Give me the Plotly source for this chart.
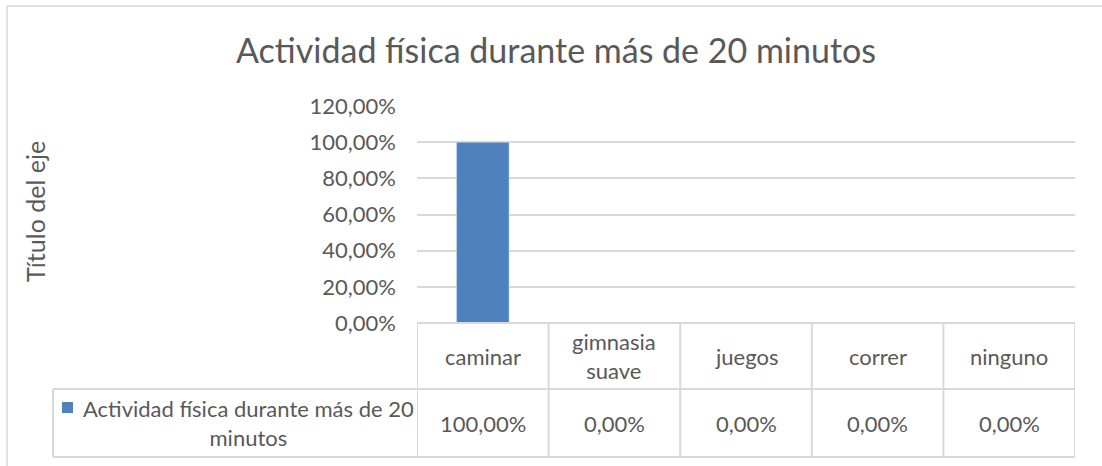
import plotly.graph_objects as go

categories = ["caminar", "gimnasia suave", "juegos", "correr", "ninguno"]
category_labels = ["caminar", "gimnasia<br>suave", "juegos", "correr", "ninguno"]
values = [1.0, 0.0, 0.0, 0.0, 0.0]
series_name = "Actividad física durante más de 20 minutos"
legend_label = "Actividad física durante más de 20<br>minutos"
title_text = "Actividad física durante más de 20 minutos"
y_title = "Título del eje"
y_ticks = [0, 0.2, 0.4, 0.6, 0.8, 1.0, 1.2]

W, H = 1102, 466
FONT = "Lato"
TXT = "#595959"
GRID = "#d9d9d9"
BAR = "#4F81BD"
FS = 22

def px_x(p):
    return p / W

def px_y(p):
    return (H - p) / H

plot_l, plot_r = 417, 1075
plot_t, plot_b = 106, 323
row2, tbl_b = 389, 457

def fmt(v):
    return f"{v*100:.2f}".replace(".", ",") + "%"

fig = go.Figure()
fig.add_trace(go.Bar(x=list(range(len(categories))), y=values, marker_color=BAR,
                     width=0.4, name=series_name, showlegend=False, hoverinfo="skip"))

shapes = []
shapes.append(dict(type="rect", xref="paper", yref="paper", x0=px_x(7), x1=1.05,
                   y0=-0.05, y1=px_y(6), line=dict(color=GRID, width=1.5), layer="below"))
for yy in [plot_b, row2, tbl_b]:
    shapes.append(dict(type="line", xref="x", yref="paper", x0=-0.5, x1=len(categories) - 0.5,
                       y0=px_y(yy), y1=px_y(yy), line=dict(color=GRID, width=2)))
for i in range(len(categories) + 1):
    shapes.append(dict(type="line", xref="x", yref="paper", x0=i - 0.5, x1=i - 0.5,
                       y0=px_y(plot_b), y1=px_y(tbl_b), line=dict(color=GRID, width=2)))
shapes.append(dict(type="line", xref="paper", yref="paper", x0=px_x(53), x1=px_x(plot_l),
                   y0=px_y(row2), y1=px_y(row2), line=dict(color=GRID, width=2)))
shapes.append(dict(type="line", xref="paper", yref="paper", x0=px_x(53), x1=px_x(plot_l),
                   y0=px_y(tbl_b), y1=px_y(tbl_b), line=dict(color=GRID, width=2)))
shapes.append(dict(type="line", xref="paper", yref="paper", x0=px_x(53), x1=px_x(53),
                   y0=px_y(row2), y1=px_y(tbl_b), line=dict(color=GRID, width=2)))
shapes.append(dict(type="rect", xref="paper", yref="paper", x0=px_x(62), x1=px_x(73),
                   y0=px_y(413), y1=px_y(402), fillcolor=BAR, line=dict(width=0)))

def ann(x, y, text, xref="paper", size=FS, **kw):
    return dict(x=x, y=y, xref=xref, yref="paper", text=text, showarrow=False,
                xanchor="center", yanchor="middle",
                font=dict(size=size, color=TXT, family=FONT), **kw)

annotations = []
for i, (lab, v) in enumerate(zip(category_labels, values)):
    annotations.append(ann(i, px_y(356), lab, xref="x"))
    annotations.append(ann(i, px_y(423), fmt(v), xref="x"))
annotations.append(ann(px_x(248), px_y(423), legend_label, align="center"))
annotations.append(ann(px_x(35), px_y(212), y_title, size=25, textangle=-90))
annotations.append(ann(px_x(556), px_y(50), title_text, size=34))

fig.update_layout(
    width=W, height=H,
    margin=dict(l=0, r=0, t=0, b=0, pad=0, autoexpand=False),
    paper_bgcolor="white", plot_bgcolor="white",
    separators=",.",
    shapes=shapes, annotations=annotations,
    xaxis=dict(domain=[px_x(plot_l), px_x(plot_r)], range=[-0.5, len(categories) - 0.5],
               showticklabels=False, showgrid=False, zeroline=False, showline=False,
               automargin=False, fixedrange=True),
    yaxis=dict(domain=[px_y(plot_b), px_y(plot_t)], range=[0, 1.2], tickvals=y_ticks,
               tickformat=".2%", showgrid=True, gridcolor=GRID, gridwidth=1.5,
               zeroline=False, showline=False, ticklabelstandoff=20, automargin=False,
               tickfont=dict(size=FS, color=TXT, family=FONT), fixedrange=True),
    bargap=0.6,
)

fig.write_html("out.html", config={"displayModeBar": False},
               post_script="document.body.style.margin='0';document.body.style.overflow='hidden';")
